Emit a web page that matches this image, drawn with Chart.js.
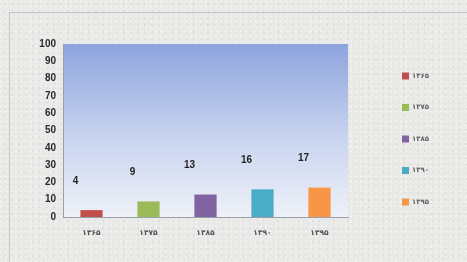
<!DOCTYPE html>
<html>
<head>
<meta charset="utf-8">
<script src="https://cdn.jsdelivr.net/npm/chart.js@4/dist/chart.umd.min.js"></script>
<style>
html,body{margin:0;padding:0;background:#e9e9e7;}
#wrap{position:relative;width:467px;height:262px;
background-color:#e9e9e7;
background-image:
 radial-gradient(circle at 20% 30%, rgba(255,255,255,0.45) 0.8px, transparent 1.3px),
 radial-gradient(circle at 70% 60%, rgba(0,0,0,0.05) 0.8px, transparent 1.2px);
background-size:5px 5px, 7px 7px;}
canvas{position:absolute;left:0;top:0;}
</style>
</head>
<body>
<div id="wrap"><canvas id="c" width="467" height="262"></canvas></div>
<script>
const categories = ["۱۳۶۵", "۱۳۷۵", "۱۳۸۵", "۱۳۹۰", "۱۳۹۵"];
const values = [4, 9, 13, 16, 17];
const barColors = ["#c0504d", "#9bbb59", "#8064a2", "#4bacc6", "#f79646"];
const yTicks = [0, 10, 20, 30, 40, 50, 60, 70, 80, 90, 100];

const bgPlugin = {
  id: 'bg',
  beforeDraw(chart) {
    const {ctx, chartArea: a} = chart;
    ctx.save();
    ctx.strokeStyle = '#c4c4c4';
    ctx.lineWidth = 1;
    ctx.strokeRect(9.5, 12.5, 480, 260);
    const g = ctx.createLinearGradient(0, a.top, 0, a.bottom);
    g.addColorStop(0, '#8ea4de');
    g.addColorStop(0.55, '#c9d4ef');
    g.addColorStop(1, '#eef1f8');
    ctx.fillStyle = g;
    ctx.fillRect(a.left, a.top, a.right - a.left, a.bottom - a.top);
    ctx.restore();
  },
  afterDatasetsDraw(chart) {
    const {ctx} = chart;
    const meta = chart.getDatasetMeta(0);
    ctx.save();
    ctx.font = 'bold 10px "Liberation Sans", Arial, sans-serif';
    ctx.fillStyle = '#222';
    ctx.textAlign = 'center';
    ctx.textBaseline = 'middle';
    meta.data.forEach((bar, i) => {
      ctx.fillText(String(values[i]), bar.x - 16, bar.y - 29);
    });
    ctx.restore();
  },
  afterDraw(chart) {
    const {ctx, chartArea: a} = chart;
    ctx.save();
    ctx.font = 'bold 7px "DejaVu Sans", sans-serif';
    ctx.textBaseline = 'middle';
    ctx.textAlign = 'left';
    categories.forEach((c, i) => {
      const y = a.top + 32 + i * 31.5;
      ctx.fillStyle = barColors[i];
      ctx.fillRect(402, y - 3.5, 7, 7);
      ctx.fillStyle = '#666';
      ctx.fillText(c, 412, y);
    });
    ctx.restore();
  }
};

new Chart(document.getElementById('c'), {
  type: 'bar',
  data: {
    labels: categories,
    datasets: [{
      data: values,
      backgroundColor: barColors,
      borderWidth: 0,
      barPercentage: 0.39,
      categoryPercentage: 1.0
    }]
  },
  options: {
    responsive: false,
    animation: false,
    layout: {padding: {top: 44, right: 119, left: 0, bottom: 0}},
    plugins: {legend: {display: false}, tooltip: {enabled: false}},
    scales: {
      x: {
        grid: {display: false, drawTicks: false},
        border: {color: '#9aa0aa', width: 1},
        ticks: {color: '#555', font: {size: 7.5, weight: 'bold', family: '"DejaVu Sans", sans-serif'}, padding: 12},
        afterFit(s) { s.height = 45; }
      },
      y: {
        min: 0, max: 100,
        afterBuildTicks(s) { s.ticks = yTicks.map(v => ({value: v})); },
        grid: {display: false, drawTicks: false},
        border: {color: '#9aa0aa', width: 1},
        ticks: {color: '#2a2a2a', font: {size: 10, weight: 'bold', family: '"Liberation Sans", Arial, sans-serif'}, padding: 7},
        afterFit(s) { s.width = 63; }
      }
    }
  },
  plugins: [bgPlugin]
});
</script>
</body>
</html>
